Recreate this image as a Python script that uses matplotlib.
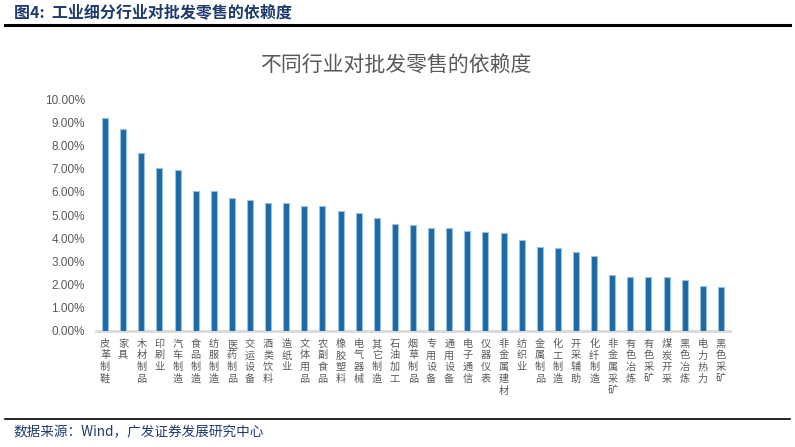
import matplotlib
matplotlib.use("Agg")
import matplotlib.pyplot as plt
from matplotlib.ticker import FuncFormatter, MultipleLocator
from matplotlib.lines import Line2D

plt.rcParams['font.family'] = ['Noto Sans CJK SC', 'DejaVu Sans']

categories = ["皮革制鞋", "家具", "木材制品", "印刷业", "汽车制造", "食品制造", "纺服制造",
              "医药制品", "交运设备", "酒类饮料", "造纸业", "文体用品", "农副食品", "橡胶塑料",
              "电气器械", "其它制造", "石油加工", "烟草制品", "专用设备", "通用设备", "电子通信",
              "仪器仪表", "非金属建材", "纺织业", "金属制品", "化工制造", "开采辅助", "化纤制造",
              "非金属采矿", "有色冶炼", "有色采矿", "煤炭开采", "黑色冶炼", "电力热力", "黑色采矿"]
values = [9.22, 8.72, 7.67, 7.05, 6.93, 6.03, 6.02, 5.75, 5.64, 5.52, 5.50, 5.39, 5.38,
          5.19, 5.09, 4.87, 4.61, 4.57, 4.45, 4.42, 4.31, 4.26, 4.22, 3.92, 3.60, 3.57,
          3.40, 3.21, 2.41, 2.33, 2.32, 2.30, 2.19, 1.91, 1.87]

W, H = 795, 447
fig = plt.figure(figsize=(W / 100, H / 100), dpi=100)
fig.patch.set_facecolor('white')

ax = fig.add_axes([96 / W, (H - 330.5) / H, (730 - 96) / W, 231 / H])
x = list(range(len(categories)))
ax.bar(x, values, width=0.33, color='#1B6AA6', edgecolor='#9DC0DF', linewidth=0.8, zorder=3)
ax.set_xlim(-0.5, len(categories) - 0.5)
ax.set_ylim(0, 10)
ax.yaxis.set_major_locator(MultipleLocator(1))
ax.yaxis.set_major_formatter(FuncFormatter(lambda v, p: f"{v:.2f}%"))
for s in ['top', 'right', 'left']:
    ax.spines[s].set_visible(False)
ax.spines['bottom'].set_color('#D9D9D9')
ax.spines['bottom'].set_linewidth(2)
ax.tick_params(axis='y', length=0, pad=8, labelsize=8.5, labelcolor='#595959')
ax.tick_params(axis='x', length=0, pad=6)
for lab in ax.get_yticklabels():
    lab.set_fontfamily(['Liberation Sans', 'DejaVu Sans'])
ax.set_xticks(x)
ax.set_xticklabels(['\n'.join(c) for c in categories], fontsize=7.3, color='#595959',
                   linespacing=1.2, va='top')

fig.text(396 / W, 1 - 65 / H, "不同行业对批发零售的依赖度", ha='center', va='center',
         fontsize=15, color='#595959')

fig.text(14 / W, 1 - 12 / H, "图4:  工业细分行业对批发零售的依赖度", ha='left', va='center',
         fontsize=11.5, fontweight='bold', color='#1F3A6E')
fig.add_artist(Line2D([5 / W, 790 / W], [1 - 24.5 / H, 1 - 24.5 / H], color='black', linewidth=2.2))
fig.add_artist(Line2D([5 / W, 790 / W], [1 - 418.5 / H, 1 - 418.5 / H], color='black', linewidth=1.2))
fig.text(13 / W, 1 - 432 / H, "数据来源：Wind，广发证券发展研究中心", ha='left', va='center',
         fontsize=9.8, color='#1F3A6E')

fig.savefig('out.png', dpi=100, facecolor='white')
